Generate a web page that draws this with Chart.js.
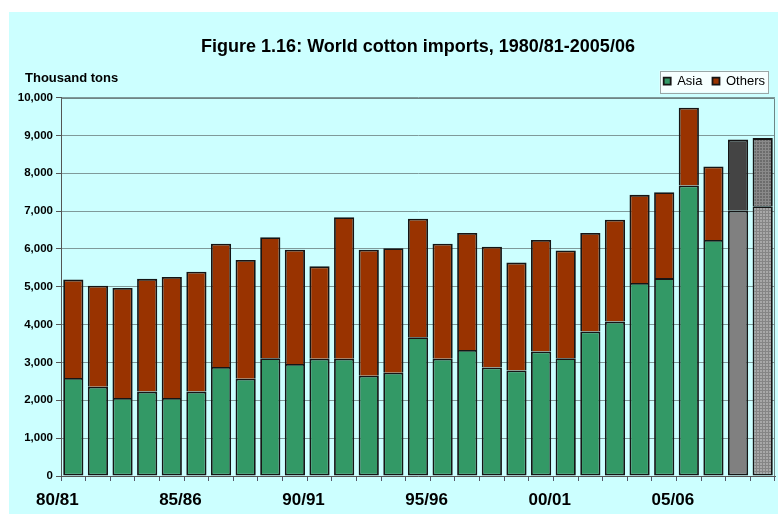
<!DOCTYPE html>
<html>
<head>
<meta charset="utf-8">
<script src="https://cdn.jsdelivr.net/npm/chart.js@4.4.1/dist/chart.umd.min.js"></script>
<style>
html, body { margin: 0; padding: 0; background: #fff; }
#wrap { width: 778px; height: 514px; }
</style>
</head>
<body>
<div id="wrap"><canvas id="importsChart"></canvas></div>
<script>
'use strict';

const seasons = ['80/81', '81/82', '82/83', '83/84', '84/85', '85/86', '86/87', '87/88', '88/89', '89/90',
    '90/91', '91/92', '92/93', '93/94', '94/95', '95/96', '96/97', '97/98', '98/99', '99/00',
    '00/01', '01/02', '02/03', '03/04', '04/05', '05/06', '06/07', '07/08', '08/09'];
const shownSeasons = ['80/81', '85/86', '90/91', '95/96', '00/01', '05/06'];
const projected = ['07/08', '08/09'];

// thousand tons
const asia = [2590, 2360, 2060, 2230, 2060, 2230, 2880, 2570, 3110, 2960,
    3100, 3100, 2650, 2730, 3670, 3100, 3330, 2870, 2790, 3290,
    3110, 3820, 4080, 5100, 5230, 7680, 6240, 7010, 7130];
const others = [2600, 2670, 2910, 2980, 3200, 3170, 3260, 3140, 3200, 3020,
    2440, 3740, 3330, 3290, 3130, 3040, 3090, 3190, 2850, 2950,
    2850, 2600, 2690, 2330, 2270, 2050, 1940, 1880, 1800];

const yTicks = [0, 1000, 2000, 3000, 4000, 5000, 6000, 7000, 8000, 9000, 10000];

const sans = '"Liberation Sans", Arial, sans-serif';

let canvas = document.querySelector('#importsChart');
let cctx = canvas.getContext('2d');

function makePattern(base, line) {
    let c = document.createElement('canvas');
    c.width = 3;
    c.height = 3;
    let g = c.getContext('2d');
    g.fillStyle = base;
    g.fillRect(0, 0, 3, 3);
    g.fillStyle = line;
    g.fillRect(0, 0, 3, 1);
    g.fillRect(0, 0, 1, 3);
    return cctx.createPattern(c, 'repeat');
}

const asiaPattern = makePattern('#a8a8a8', '#858585');
const othersPattern = makePattern('#6c6c6c', '#8a8a8a');

function barColor(index, series) {
    let p = projected.indexOf(seasons[index]);
    if (p === 0) return series === 'asia' ? '#808080' : '#444444';
    if (p === 1) return series === 'asia' ? asiaPattern : othersPattern;
    return series === 'asia' ? '#339966' : '#993300';
}

const backdrop = {
    id: 'backdrop',
    beforeDraw(chart) {
        let ctx = chart.ctx;
        ctx.save();
        ctx.fillStyle = '#ffffff';
        ctx.fillRect(0, 0, chart.width, chart.height);
        ctx.fillStyle = '#ccffff';
        ctx.fillRect(9, 12, chart.width - 9, chart.height - 12);

        let hb = chart.legend.legendHitBoxes;
        if (hb && hb.length) {
            let first = hb[0], last = hb[hb.length - 1];
            let x0 = first.left - 4, x1 = last.left + last.width + 3;
            let y0 = first.top - 4, y1 = first.top + first.height + 5;
            ctx.fillStyle = '#f6ffff';
            ctx.fillRect(x0, y0, x1 - x0, y1 - y0);
            ctx.strokeStyle = '#9aa6a6';
            ctx.lineWidth = 1;
            ctx.strokeRect(Math.round(x0) + 0.5, Math.round(y0) + 0.5, Math.round(x1 - x0), Math.round(y1 - y0));
        }
        ctx.restore();
    },
    afterDraw(chart) {
        let ctx = chart.ctx;
        let a = chart.chartArea;
        ctx.save();
        ctx.strokeStyle = '#6f8585';
        ctx.lineWidth = 1;
        ctx.beginPath();
        ctx.moveTo(Math.round(a.left) + 0.5, Math.round(a.top) + 0.5);
        ctx.lineTo(Math.round(a.right) - 0.5, Math.round(a.top) + 0.5);
        ctx.lineTo(Math.round(a.right) - 0.5, Math.round(a.bottom));
        ctx.stroke();
        ctx.fillStyle = '#000';
        ctx.font = 'bold 13px ' + sans;
        ctx.textBaseline = 'middle';
        ctx.textAlign = 'left';
        ctx.fillText('Thousand tons', 25, 78);
        ctx.restore();
    }
};

new Chart(canvas, {
    type: 'bar',
    data: {
        labels: seasons,
        datasets: [
            {
                label: 'Asia',
                data: asia,
                backgroundColor: ctx => barColor(ctx.dataIndex, 'asia'),
                borderColor: '#151515',
                borderWidth: 1.8,
                borderSkipped: false
            },
            {
                label: 'Others',
                data: others,
                backgroundColor: ctx => barColor(ctx.dataIndex, 'others'),
                borderColor: '#151515',
                borderWidth: 1.8,
                borderSkipped: 'start'
            }
        ]
    },
    plugins: [backdrop],
    options: {
        responsive: true,
        maintainAspectRatio: false,
        animation: false,
        devicePixelRatio: 1,
        datasets: {
            bar: {categoryPercentage: 1, barPercentage: 0.82}
        },
        layout: {padding: {left: 9, right: 3, top: 0, bottom: 0}},
        plugins: {
            tooltip: {enabled: false},
            title: {
                display: true,
                fullSize: false,
                text: 'Figure 1.16: World cotton imports, 1980/81-2005/06',
                color: '#000',
                font: {family: sans, size: 18, weight: 'bold'},
                padding: {top: 36, bottom: 7}
            },
            legend: {
                display: true,
                fullSize: false,
                position: 'top',
                align: 'end',
                labels: {
                    color: '#000',
                    boxWidth: 7,
                    boxHeight: 7,
                    padding: 10,
                    font: {family: sans, size: 13}
                }
            }
        },
        scales: {
            x: {
                stacked: true,
                grid: {
                    display: true,
                    drawOnChartArea: false,
                    drawTicks: true,
                    tickLength: 5,
                    tickColor: '#556',
                    offset: true
                },
                border: {color: '#555', width: 1},
                ticks: {
                    autoSkip: false,
                    maxRotation: 0,
                    minRotation: 0,
                    padding: 9,
                    labelOffset: -16,
                    color: '#000',
                    font: {family: sans, size: 17, weight: 'bold'},
                    callback: function (value) {
                        let s = this.getLabelForValue(value);
                        return shownSeasons.includes(s) ? s : '';
                    }
                },
                afterFit: scale => { scale.height = 38; }
            },
            y: {
                stacked: true,
                min: 0,
                max: 10000,
                afterBuildTicks: scale => { scale.ticks = yTicks.map(v => ({value: v})); },
                grid: {
                    color: '#7f9a9a',
                    tickColor: '#555',
                    tickLength: 5
                },
                border: {color: '#555', width: 1},
                ticks: {
                    padding: 3,
                    color: '#000',
                    font: {family: sans, size: 11.5, weight: 'bold'},
                    callback: v => v.toLocaleString('en-US')
                },
                afterFit: scale => { scale.width = 52; }
            }
        }
    }
});
</script>
</body>
</html>
